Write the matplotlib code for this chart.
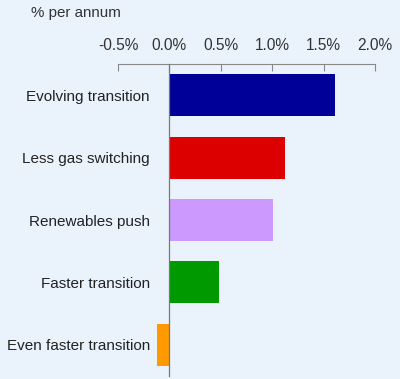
import matplotlib
matplotlib.use("Agg")
import matplotlib.pyplot as plt

categories = ["Evolving transition", "Less gas switching", "Renewables push",
              "Faster transition", "Even faster transition"]
values = [1.61, 1.125, 1.01, 0.48, -0.12]
colors = ["#000099", "#DD0000", "#CC99FF", "#009900", "#FF9900"]
xticks = [-0.5, 0.0, 0.5, 1.0, 1.5, 2.0]
xticklabels = ["-0.5%", "0.0%", "0.5%", "1.0%", "1.5%", "2.0%"]
unit_label = "% per annum"

bg = "#EAF3FC"
plt.rcParams['font.family'] = ['Liberation Sans', 'DejaVu Sans']

fig = plt.figure(figsize=(4.0, 3.79), dpi=100, facecolor=bg)
ax = fig.add_axes([0.295, 0.008, 0.6425, 0.823])
ax.set_facecolor(bg)

ypos = list(range(len(categories)))
ax.barh(ypos, values, height=0.67, color=colors, zorder=2)
ax.set_ylim(len(categories) - 0.5, -0.5)
ax.set_xlim(-0.5, 2.0)

ax.xaxis.tick_top()
ax.set_xticks(xticks)
ax.set_xticklabels(xticklabels, fontsize=11.2, color="#333333")
ax.tick_params(axis='x', direction='in', length=5, width=0.8, color="#888888", pad=8)

ax.spines['left'].set_position(('data', 0))
ax.spines['left'].set_color("#777777")
ax.spines['left'].set_linewidth(0.9)
ax.spines['left'].set_zorder(3)
ax.spines['top'].set_color("#888888")
ax.spines['top'].set_linewidth(0.8)
ax.spines['right'].set_visible(False)
ax.spines['bottom'].set_visible(False)

ax.set_yticks(ypos)
ax.set_yticklabels(categories, fontsize=11, color="#222222")
ax.tick_params(axis='y', length=0, pad=14)

fig.text(31 / 400, 1 - 13 / 379, unit_label, fontsize=10.9, color="#333333",
         ha='left', va='center')

fig.savefig("out.png", dpi=100, facecolor=bg)
